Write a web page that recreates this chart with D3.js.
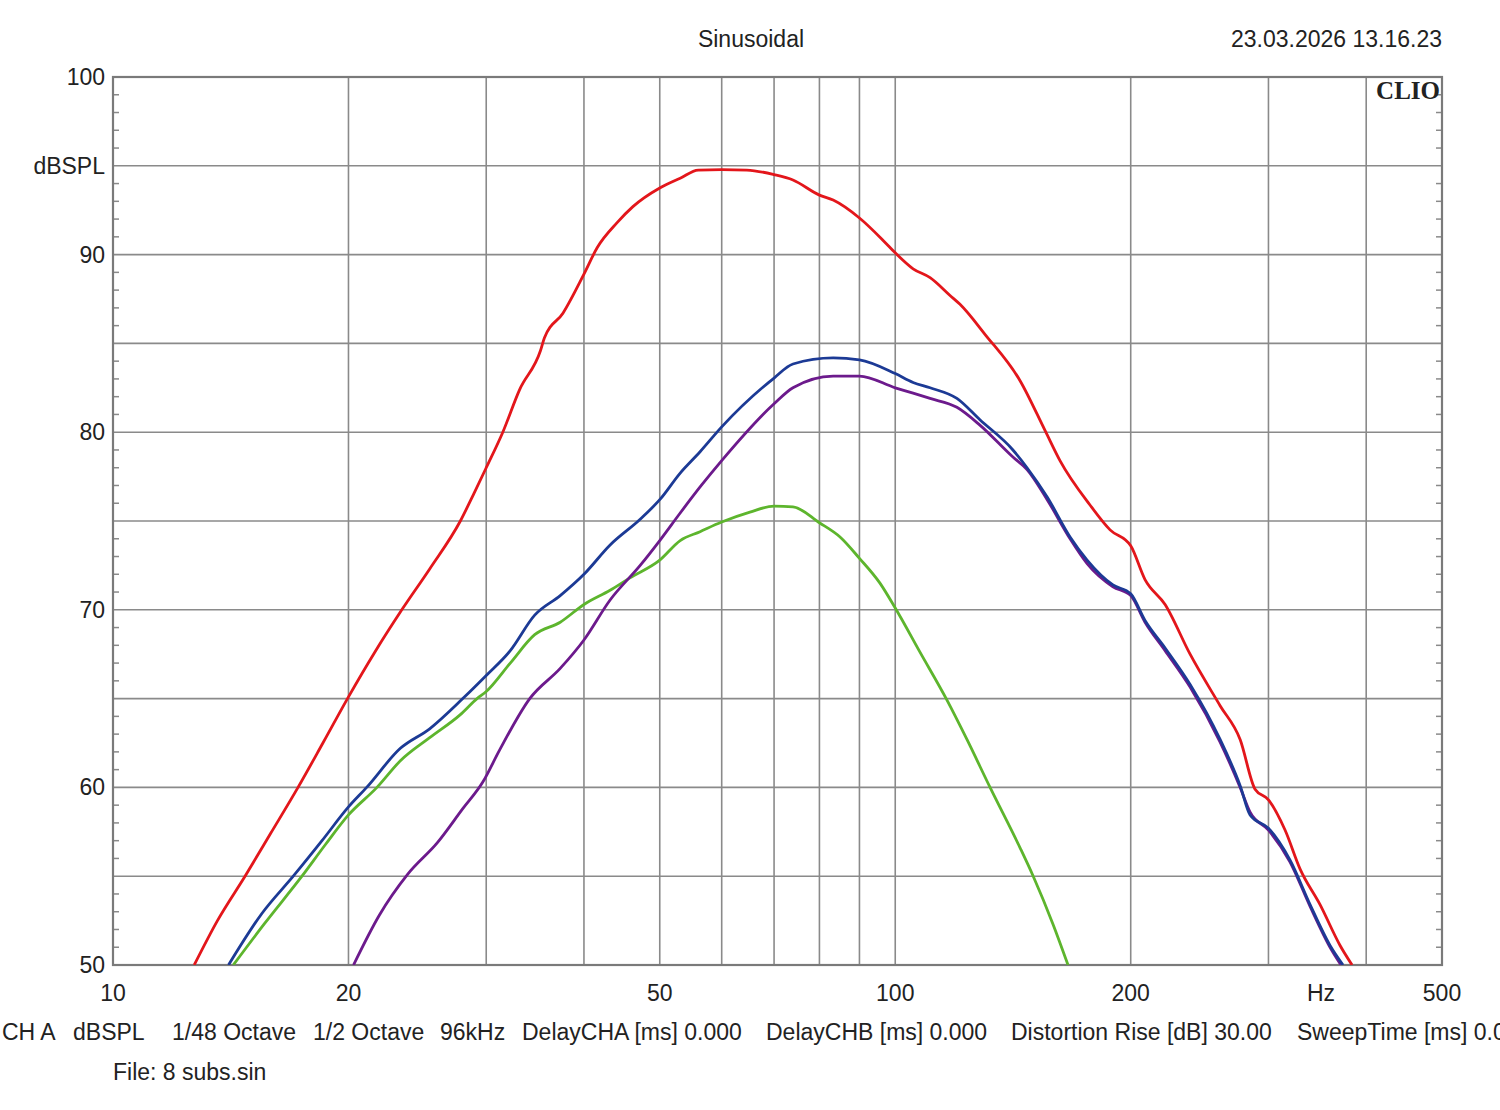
<!DOCTYPE html>
<html>
<head>
<meta charset="utf-8">
<script src="https://cdn.jsdelivr.net/npm/d3@7/dist/d3.min.js"></script>
<style>
  html, body { margin: 0; padding: 0; background: #fff; }
  svg { display: block; }
  text { font-family: "Liberation Sans", Arial, sans-serif; fill: #222; }
</style>
</head>
<body>
<svg id="chart" width="1500" height="1110"></svg>
<script>
// ---------------- data (frequency in Hz, level in dBSPL) ----------------
const redFreq = [12.7, 13.6, 14.75, 15.9, 17.24, 18.55, 20.0, 21.6, 23.4, 25.4, 27.8, 28.9, 30.0, 31.5, 33.1, 35.2, 35.6, 37.6, 40, 41.6, 44.1, 46.2, 50, 53.1, 56, 60, 64.6, 70, 74, 80, 83.3, 90, 96.5, 100, 105.4, 110.8, 117.5, 121, 130.3, 144.4, 155.4, 162.4, 177.4, 188.2, 200, 208.6, 221.3, 238.2, 260.2, 276, 288.4, 300, 315, 329.3, 349.2, 370.4, 383.7];
const redDb   = [50, 52.5, 55.0, 57.4, 60.0, 62.5, 65.1, 67.6, 70.0, 72.3, 75.0, 76.5, 78.0, 80.0, 82.4, 84.6, 85.3, 86.7, 88.9, 90.4, 91.8, 92.7, 93.75, 94.3, 94.76, 94.78, 94.76, 94.5, 94.2, 93.35, 93.07, 92.06, 90.8, 90.1, 89.2, 88.7, 87.7, 87.2, 85.5, 82.9, 80.1, 78.4, 75.9, 74.5, 73.6, 71.7, 70.3, 67.5, 64.6, 62.7, 59.9, 59.3, 57.6, 55.4, 53.4, 51.1, 50];

const blueFreq = [14.05, 15.5, 17.0, 18.5, 20, 21.1, 23.3, 25.4, 28, 30, 32.2, 34.6, 37.3, 40, 43.2, 47.2, 50, 53.1, 56.3, 60, 70, 74, 83.3, 90, 100, 105.4, 110.8, 119.9, 128.3, 141.4, 147.4, 156.4, 167.3, 175.9, 189.8, 200, 208.6, 221.3, 238.2, 260.2, 276, 284.2, 300, 319.7, 339.1, 359.6, 373.6];
const blueDb   = [50, 52.9, 55.0, 57.0, 58.9, 60.0, 62.2, 63.3, 65.0, 66.3, 67.7, 69.7, 70.8, 72.0, 73.65, 75.1, 76.2, 77.7, 78.9, 80.3, 83.05, 83.84, 84.18, 84.07, 83.3, 82.8, 82.5, 81.9, 80.7, 79.0, 78.0, 76.35, 74.1, 72.8, 71.4, 70.9, 69.4, 67.85, 65.8, 62.7, 60.1, 58.45, 57.7, 55.9, 53.4, 51.1, 50];

const purpleFreq = [20.3, 21.9, 23.8, 26.0, 28.0, 29.7, 31.2, 34.1, 37.3, 40, 43.2, 47.2, 50, 53.1, 56.5, 60, 70, 74, 83.3, 90, 100, 105.4, 110.8, 119.9, 128.3, 141.4, 147.4, 156.4, 167.3, 175.9, 189.8, 200, 208.6, 221.3, 238.2, 260.2, 276, 284.2, 300, 319.7, 339.1, 359.6, 371.4];
const purpleDb   = [50, 52.8, 55.1, 56.9, 58.8, 60.3, 62.1, 65.0, 66.7, 68.3, 70.55, 72.5, 73.9, 75.45, 77.0, 78.4, 81.6, 82.5, 83.16, 83.16, 82.5, 82.2, 81.9, 81.4, 80.4, 78.6, 77.9, 76.2, 74.0, 72.6, 71.3, 70.8, 69.3, 67.7, 65.65, 62.55, 60.0, 58.6, 57.6, 55.8, 53.3, 51.0, 50];

const greenFreq = [14.25, 15.6, 17.44, 18.7, 20, 21.75, 23.3, 25.4, 27.8, 29.2, 30, 32.2, 34.6, 37.3, 40, 43.2, 45.8, 50, 53.1, 56.3, 60, 65.2, 70, 74, 80, 85, 90, 95.6, 100, 107.6, 116.5, 123.5, 132.2, 144.4, 150.1, 159.1, 166.3];
const greenDb   = [50, 52.3, 55.0, 56.8, 58.45, 60.0, 61.5, 62.8, 64.1, 65.0, 65.4, 67.0, 68.6, 69.3, 70.3, 71.1, 71.8, 72.8, 73.9, 74.4, 74.94, 75.5, 75.84, 75.8, 74.9, 74.1, 72.9, 71.5, 70.1, 67.6, 64.9, 62.7, 60.0, 56.6, 55.0, 52.3, 50];

const seriesNames  = ["red", "blue", "purple", "green"];
const seriesColors = ["#e3161b", "#1c3a95", "#6c1a8c", "#5db52d"];

const yLabelValues = [100, 95, 90, 80, 70, 60, 50];
const yLabelTexts  = ["100", "dBSPL", "90", "80", "70", "60", "50"];
const xLabelValues = [10, 20, 50, 100, 200, 500];
const xGridValues  = [20, 30, 40, 50, 60, 70, 80, 90, 100, 200, 300, 400];
const yGridValues  = [95, 90, 85, 80, 75, 70, 65, 60, 55];

const title = "Sinusoidal";
const stamp = "23.03.2026 13.16.23";
const footerItems = ["CH A", "dBSPL", "1/48 Octave", "1/2 Octave", "96kHz", "DelayCHA [ms] 0.000", "DelayCHB [ms] 0.000", "Distortion Rise [dB] 30.00", "SweepTime [ms] 0.000"];
const footerX = [2, 73, 172, 313, 440, 522, 766, 1011, 1297];
const fileLabel = "File: 8 subs.sin";

// ---------------- layout ----------------
const svg = d3.select("#chart");
const L = 113, R = 1442, T = 77, B = 965;
const FS = 23;

const x = d3.scaleLog().domain([10, 500]).range([L, R]);
const y = d3.scaleLinear().domain([50, 100]).range([B, T]);

const gridColor = "#8a8a8a";

// grid
svg.append("g").selectAll("line").data(xGridValues).join("line")
  .attr("x1", d => x(d)).attr("x2", d => x(d))
  .attr("y1", T).attr("y2", B)
  .attr("stroke", gridColor).attr("stroke-width", 1.6);
svg.append("g").selectAll("line").data(yGridValues).join("line")
  .attr("x1", L).attr("x2", R)
  .attr("y1", d => y(d)).attr("y2", d => y(d))
  .attr("stroke", gridColor).attr("stroke-width", 1.6);

// minor ticks (every 1 dB) on left and right, inside
const minor = d3.range(51, 100).filter(d => d % 5 !== 0);
svg.append("g").selectAll("line").data(minor).join("line")
  .attr("x1", L).attr("x2", L + 6)
  .attr("y1", d => y(d)).attr("y2", d => y(d))
  .attr("stroke", gridColor).attr("stroke-width", 1.5);
svg.append("g").selectAll("line").data(minor).join("line")
  .attr("x1", R - 6).attr("x2", R)
  .attr("y1", d => y(d)).attr("y2", d => y(d))
  .attr("stroke", gridColor).attr("stroke-width", 1.5);

// frame
svg.append("rect").attr("x", L).attr("y", T).attr("width", R - L).attr("height", B - T)
  .attr("fill", "none").attr("stroke", "#7a7a7a").attr("stroke-width", 2.2);

// curves
const allFreq = [redFreq, blueFreq, purpleFreq, greenFreq];
const allDb = [redDb, blueDb, purpleDb, greenDb];
const line = d3.line().x(d => x(d[0])).y(d => y(d[1])).curve(d3.curveMonotoneX);
const drawOrder = [3, 0, 2, 1];
svg.append("clipPath").attr("id", "plotclip").append("rect")
  .attr("x", L).attr("y", T).attr("width", R - L).attr("height", B - T);
drawOrder.forEach(i => {
  const pts = allFreq[i].map((f, k) => [f, allDb[i][k]]);
  svg.append("path").datum(pts)
    .attr("d", line)
    .attr("fill", "none")
    .attr("stroke", seriesColors[i])
    .attr("stroke-width", 2.8)
    .attr("stroke-linejoin", "round")
    .attr("clip-path", "url(#plotclip)");
});

// y labels
svg.append("g").selectAll("text").data(yLabelValues).join("text")
  .attr("x", 105).attr("y", d => y(d))
  .attr("text-anchor", "end").attr("dominant-baseline", "central")
  .attr("font-size", FS)
  .text((d, i) => yLabelTexts[i]);

// x labels
svg.append("g").selectAll("text").data(xLabelValues).join("text")
  .attr("x", d => x(d)).attr("y", 993)
  .attr("text-anchor", "middle").attr("dominant-baseline", "central")
  .attr("font-size", FS)
  .text(d => String(d));
svg.append("text").attr("x", 1321).attr("y", 993)
  .attr("text-anchor", "middle").attr("dominant-baseline", "central")
  .attr("font-size", FS).text("Hz");

// title & stamp
svg.append("text").attr("x", 751).attr("y", 39)
  .attr("text-anchor", "middle").attr("dominant-baseline", "central")
  .attr("font-size", FS).text(title);
svg.append("text").attr("x", 1442).attr("y", 39)
  .attr("text-anchor", "end").attr("dominant-baseline", "central")
  .attr("font-size", FS).text(stamp);

// CLIO logo
svg.append("text").attr("x", 1440).attr("y", 90)
  .attr("text-anchor", "end").attr("dominant-baseline", "central")
  .style("font-family", "'Liberation Serif', 'DejaVu Serif', serif")
  .attr("font-weight", "bold").attr("font-size", 25)
  .attr("fill", "#111").text("CLIO");

// footer
svg.append("g").selectAll("text").data(footerItems).join("text")
  .attr("x", (d, i) => footerX[i]).attr("y", 1032)
  .attr("dominant-baseline", "central")
  .attr("font-size", FS)
  .text(d => d);
svg.append("text").attr("x", 113).attr("y", 1072)
  .attr("dominant-baseline", "central")
  .attr("font-size", FS).text(fileLabel);
</script>
</body>
</html>
